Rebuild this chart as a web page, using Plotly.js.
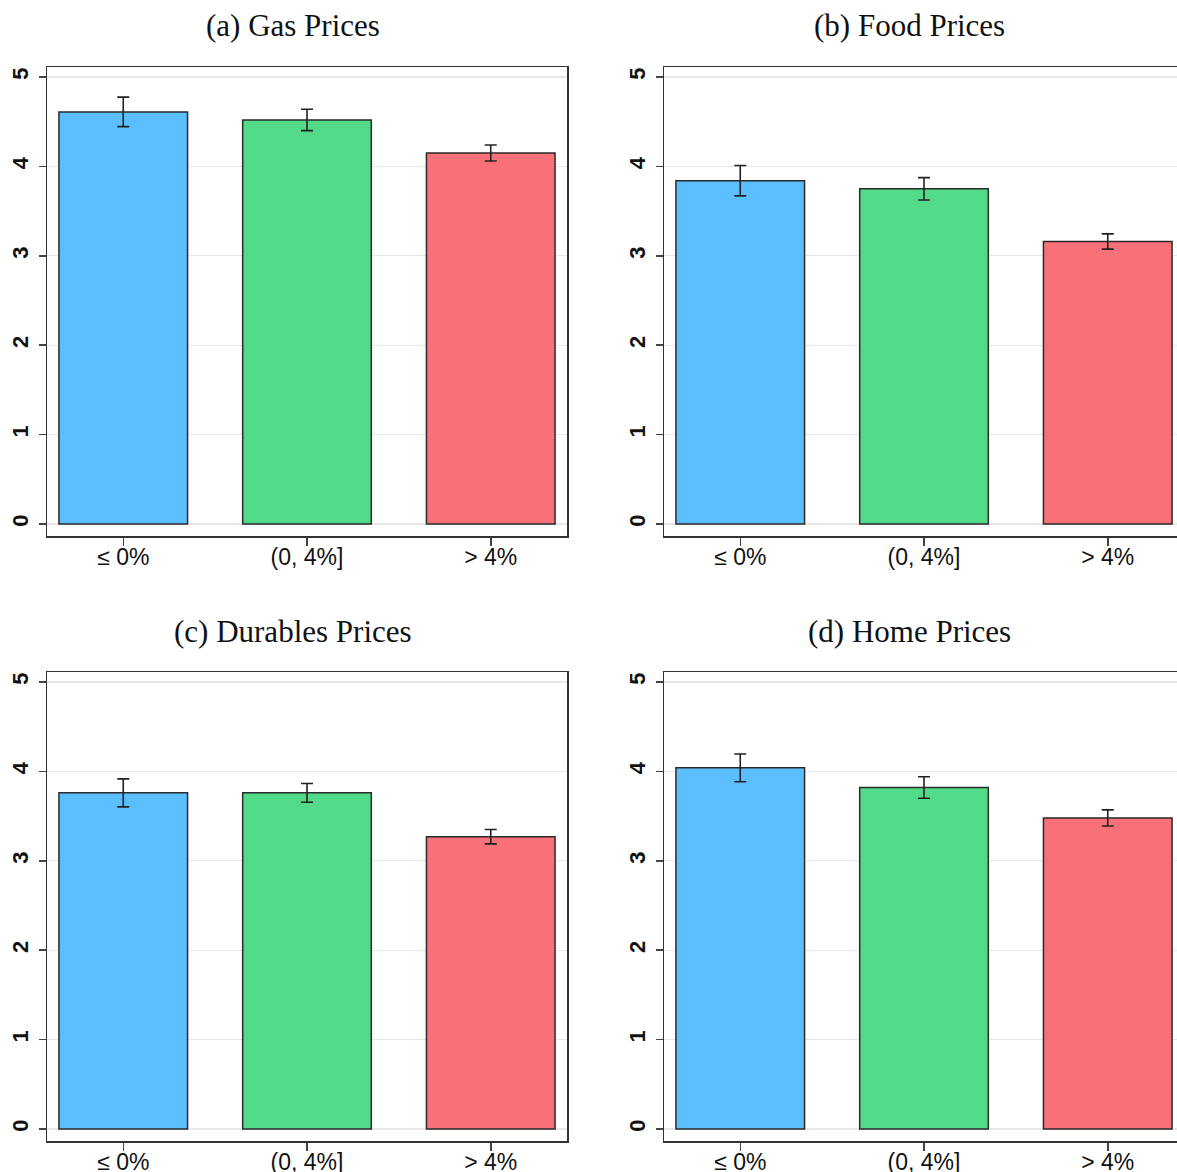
<!DOCTYPE html>
<html>
<head>
<meta charset="utf-8">
<script src="https://cdn.plot.ly/plotly-3.0.1.min.js"></script>
<style>
html, body { margin: 0; padding: 0; overflow: hidden; background: #fff; }
#chart { width: 1190px; height: 1172px; }
</style>
</head>
<body>
<div id="chart"></div>
<script>
// ---- data ----
const categories = ['≤ 0%', '(0, 4%]', '> 4%'];
const panelTitles = ['(a) Gas Prices', '(b) Food Prices', '(c) Durables Prices', '(d) Home Prices'];
const gasMean = [4.61, 4.52, 4.15];
const gasErr = [0.165, 0.12, 0.09];
const foodMean = [3.84, 3.75, 3.16];
const foodErr = [0.17, 0.125, 0.085];
const durablesMean = [3.76, 3.76, 3.27];
const durablesErr = [0.157, 0.105, 0.08];
const homeMean = [4.04, 3.82, 3.48];
const homeErr = [0.155, 0.12, 0.09];
const yTicks = [0, 1, 2, 3, 4, 5];
const barColors = ['#5BBFFE', '#52DA88', '#F87178'];

// ---- layout geometry (pixels) ----
const W = 1190, H = 1172;
const panels = [
  {mean: gasMean, err: gasErr, x0: 47, x1: 567, y0: 67, y1: 536, tx: 293, ty: 26},
  {mean: foodMean, err: foodErr, x0: 664, x1: 1184, y0: 67, y1: 536, tx: 910, ty: 26},
  {mean: durablesMean, err: durablesErr, x0: 47, x1: 567, y0: 672, y1: 1141, tx: 293, ty: 631},
  {mean: homeMean, err: homeErr, x0: 664, x1: 1184, y0: 672, y1: 1141, tx: 910, ty: 631}
];

const traces = [];
const layout = {
  width: W, height: H,
  margin: {l: 0, r: 0, t: 0, b: 0},
  paper_bgcolor: '#fff', plot_bgcolor: '#fff',
  showlegend: false,
  annotations: []
};

panels.forEach((p, i) => {
  const n = i + 1;
  const xa = 'x' + (n === 1 ? '' : n);
  const ya = 'y' + (n === 1 ? '' : n);
  traces.push({
    type: 'bar',
    x: categories,
    y: p.mean,
    xaxis: xa, yaxis: ya,
    width: 0.7,
    marker: {color: barColors, line: {color: '#2a2a2a', width: 1.5}},
    error_y: {type: 'data', array: p.err, visible: true, color: '#222', thickness: 1.6, width: 6},
    hoverinfo: 'none'
  });
  const xKey = 'xaxis' + (n === 1 ? '' : n);
  const yKey = 'yaxis' + (n === 1 ? '' : n);
  layout[xKey] = {
    domain: [p.x0 / W, p.x1 / W],
    anchor: ya,
    type: 'category',
    range: [-0.415, 2.415],
    showline: true, linecolor: '#333', linewidth: 1.5, mirror: true,
    ticks: 'outside', ticklen: 8, tickwidth: 1.5, tickcolor: '#444',
    ticklabelstandoff: -8,
    showgrid: false, zeroline: false,
    tickfont: {family: 'Liberation Sans, Arial, sans-serif', size: 23, color: '#111'},
    fixedrange: true
  };
  layout[yKey] = {
    domain: [1 - p.y1 / H, 1 - p.y0 / H],
    anchor: xa,
    range: [-0.134, 5.112],
    tickvals: yTicks,
    ticktext: yTicks.map(String),
    tickangle: -90,
    showline: true, linecolor: '#333', linewidth: 1.5, mirror: true,
    ticks: 'outside', ticklen: 7, tickwidth: 1.5, tickcolor: '#444',
    ticklabelstandoff: 2,
    showgrid: true, gridcolor: '#e8e8e8', gridwidth: 1.2,
    zeroline: false,
    tickfont: {family: 'Liberation Sans, Arial, sans-serif', size: 22, color: '#111', weight: 'bold'},
    fixedrange: true
  };
  layout.annotations.push({
    text: panelTitles[i],
    xref: 'paper', yref: 'paper',
    x: p.tx / W, y: 1 - p.ty / H,
    xanchor: 'center', yanchor: 'middle',
    showarrow: false,
    font: {family: 'Liberation Serif, Times New Roman, serif', size: 31, color: '#111'}
  });
});

Plotly.newPlot('chart', traces, layout, {displayModeBar: false, staticPlot: true});
</script>
</body>
</html>
